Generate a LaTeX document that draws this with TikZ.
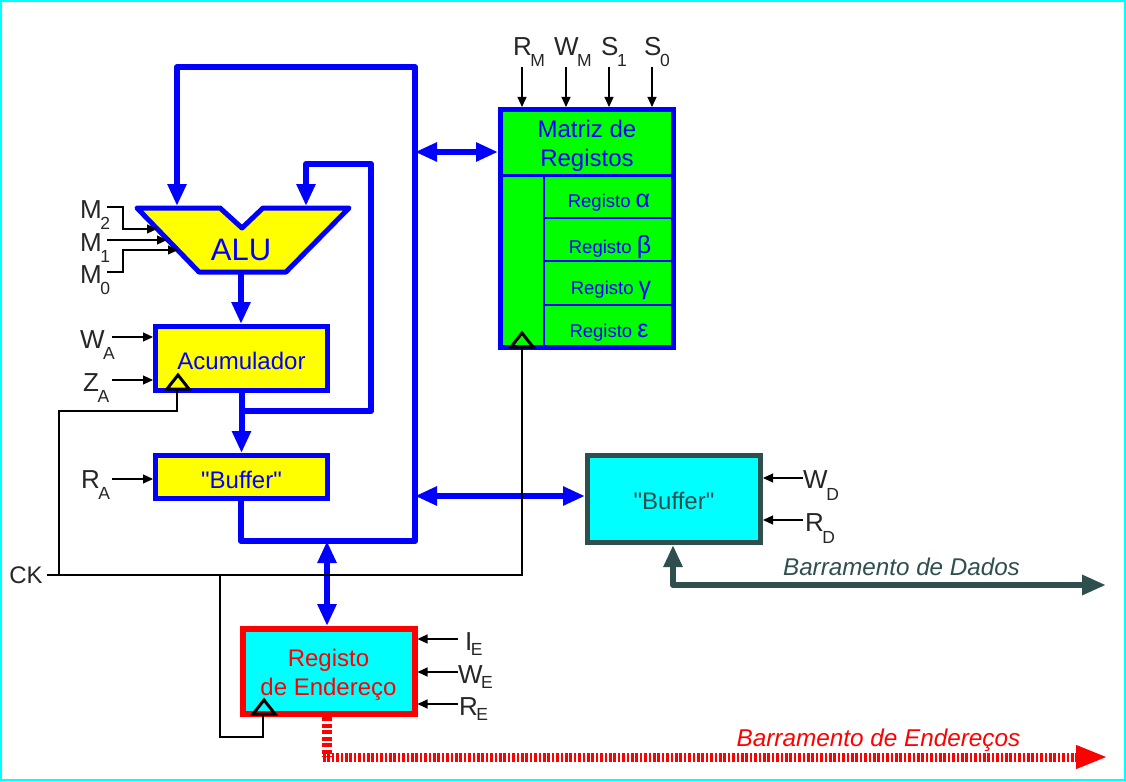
\documentclass[tikz,border=0pt]{standalone}
\usepackage{fontspec}
\setmainfont{Liberation Sans}
\newfontfamily\plainfont{Liberation Sans}
\usetikzlibrary{arrows.meta}
\definecolor{slate}{RGB}{47,79,79}
\definecolor{pureblue}{RGB}{0,0,255}
\definecolor{purered}{RGB}{255,0,0}
\definecolor{purecyan}{RGB}{0,255,255}
\definecolor{pureyellow}{RGB}{255,255,0}
\definecolor{puregreen}{RGB}{0,255,0}
\newcommand{\fsz}[1]{\fontsize{#1}{#1}\selectfont}
\newcommand{\sigtxt}[3][11]{#2\kern-1.5pt\raisebox{-#1pt}{\fsz{17.5}#3}}
\tikzset{
  busline/.style={pureblue, line width=6pt, line join=round},
  bustip/.style={-{Triangle[length=22pt,width=18pt]}},
  busboth/.style={{Triangle[length=22pt,width=18pt]}-{Triangle[length=22pt,width=18pt]}},
  sigline/.style={black, line width=1.2pt, -{Triangle[length=10pt,width=9pt]}},
  ckline/.style={black, line width=1.2pt},
  sigtext/.style={font=\fsz{26}, inner sep=0pt, text=black!85, anchor=base west},
  box/.style={draw=pureblue, fill=pureyellow, line width=5pt, inner sep=0pt},
  cell/.style={inner sep=0pt, text=pureblue, font=\fsz{18.5}},
  clock/.style={draw=black, line width=3pt, line join=miter},
}
\begin{document}
\begin{tikzpicture}[x=1pt, y=-1pt]
\useasboundingbox (0,0) rectangle (1126,781);
\fill[white] (0,0) rectangle (1126,781);
\draw[purecyan, line width=1.2pt] (1,1) rectangle (1125,780);

% Boxes
\node[box, minimum width=172pt, minimum height=64pt] (acum) at (241.5,358.5) {};
\node[box, minimum width=172pt, minimum height=43pt] (bufa) at (241.5,477) {};
\node[box, fill=puregreen, minimum width=173pt, minimum height=238pt] (matriz) at (587,228.5) {};
\node[box, draw=slate, fill=purecyan, minimum width=173pt, minimum height=87pt] (bufd) at (674,499) {};
\node[box, draw=purered, fill=purecyan, line width=6pt, minimum width=172pt, minimum height=85pt] (ender) at (328.5,671.5) {};

% ALU
\draw[pureblue, line width=5pt, fill=pureyellow, line join=round]
  (137,208) -- (220,208) -- (242,228) -- (263,208) -- (349,208) -- (286,272) -- (199,272) -- cycle;
\node[inner sep=0pt, text=pureblue, font=\fsz{31}] (alu) at (241,250) {ALU};

% Box texts
\node[cell, font=\fsz{24}] (acumtxt) at (241.5,361) {Acumulador};
\node[cell, font=\fsz{24}\plainfont] (bufatxt) at (241.5,480) {"Buffer"};
\node[cell, font=\fsz{24}\plainfont, text=slate] (bufdtxt) at (674,501) {"Buffer"};
\node[cell, font=\fsz{24}, align=center] (matriztxt) at (587,146) {Matriz de\\[5pt]Registos};
\node[cell, font=\fsz{24}, text=purered, align=center] (endertxt) at (328.5,675) {Registo\\[5pt]de Endereço};

% Matrix cells
\draw[pureblue, line width=3pt] (matriz.west |- 0,175) -- (matriz.east |- 0,175);
\draw[pureblue, line width=1.2pt] (544,175) -- (544,347);
\foreach \y in {218,261,305} {
  \draw[pureblue, line width=1.2pt] (544,\y) -- (674,\y);
}
\foreach \y/\x/\lbl in {203/609/α, 247/610/β, 290/611/γ, 333/609/ε} {
  \node[cell] (reg\lbl) at (\x,\y) {Registo {\fsz{25}\lbl}};
}

% Data buses
\coordinate (topright) at (415,67);
\coordinate (topleft) at (177,67);
\coordinate (busbase) at (415,541);
\coordinate (busleft) at (241,541);
\coordinate (loopjoin) at (241,411);
\coordinate (loopright) at (371,411);
\coordinate (looptop) at (371,164);
\coordinate (loopleft) at (306,164);
\coordinate (addrjoin) at (327,541);
\draw[busline, bustip] (bufa.south -| busleft) -- (busleft) -- (busbase) -- (topright) -- (topleft) -- (177,206);
\draw[busline, bustip] (loopjoin) -- (loopright) -- (looptop) -- (loopleft) -- (306,206);
\draw[busline, bustip] (alu |- 0,272) -- (acum.north -| alu);
\draw[busline, bustip] (acum.south) -- (bufa.north);
\draw[busline, busboth] (415,152) -- (matriz.west |- 0,152);
\draw[busline, busboth] (415,496) -- (bufd.west |- 0,496);
\draw[busline, busboth] (addrjoin) -- (ender.north -| addrjoin);

% External buses
\coordinate (dadosturn) at (673,585);
\coordinate (dadosend) at (1106,585);
\draw[slate, line width=6.5pt, line join=round, {Triangle[length=22pt,width=18pt]}-{Triangle[length=24pt,width=19pt]}]
  (bufd.south -| dadosturn) -- (dadosturn) -- (dadosend);
\node[inner sep=0pt, text=slate, font=\fsz{24.2}\itshape] (dadostxt) at (901.5,567) {Barramento de Dados};
\coordinate (endturn) at (327,757);
\coordinate (endend) at (1106,757);
\draw[purered, line width=9.5pt, dash pattern=on 4pt off 2.5pt] (ender.south -| endturn) -- (endturn);
\draw[purered, line width=9pt, dash pattern=on 2.6pt off 1.8pt] (323,757) -- (1078,757);
\draw[purered, line width=1pt, -{Triangle[length=30pt,width=24pt]}] (1076,757) -- (endend);
\node[inner sep=0pt, text=purered, font=\fsz{24.3}\itshape] (endtxt) at (878.5,740) {Barramento de Endereços};

% Clock lines
\node[sigtext, font=\fsz{24}, anchor=center] (ck) at (26,575) {CK};
\coordinate (ckmat) at (522,575);
\coordinate (ckacum) at (59,575);
\coordinate (ckend) at (220,575);
\draw[ckline] (ck) ++(21,0) -- (ckmat) -- (522,347);
\draw[ckline] (ckacum) -- (59,411) -- (177,411) -- (177,389);
\draw[ckline] (ckend) -- (220,737) -- (263,737) -- (263,713);
\draw[clock] (511,347) -- (522,333) -- (533,347) -- cycle;
\draw[clock] (167,389) -- (178,375) -- (189,389) -- cycle;
\draw[clock] (253,714) -- (264,700) -- (275,714) -- cycle;

% Control signals on top
\foreach \x/\tx/\a/\b/\nm in {522/513/R/M/rm, 566/554/W/M/wm, 609/601/S/1/sone, 652/644/S/0/szero} {
  \node[sigtext] (\nm) at (\tx,56) {\sigtxt{\a}{\b}};
  \coordinate (\nm in) at (\x,67);
  \draw[sigline] (\nm in) -- (\nm in |- matriz.north);
}
% Control signals on the left
\foreach \y/\tx/\by/\a/\b/\nm in {337/80/348/W/A/wa, 380/83/391/Z/A/za} {
  \node[sigtext] (\nm) at (\tx,\by) {\sigtxt{\a}{\b}};
  \coordinate (\nm in) at (112,\y);
  \draw[sigline] (\nm in) -- (\nm in -| acum.west);
}
\node[sigtext] (ra) at (81,488) {\sigtxt{R}{A}};
\coordinate (rain) at (112,479);
\draw[sigline] (rain) -- (rain -| bufa.west);
% ALU mode
\node[sigtext] (mtwo) at (80,218) {\sigtxt{M}{2}};
\node[sigtext] (mone) at (80,251) {\sigtxt{M}{1}};
\node[sigtext] (mzero) at (80,283) {\sigtxt{M}{0}};
\draw[sigline] (107,207) -- (123,207) -- (123,229) -- (157,229);
\draw[sigline] (107,240) -- (167,240);
\draw[sigline] (107,272) -- (123,272) -- (123,250) -- (178,250);
% Right side signals
\foreach \y/\tx/\by/\a/\b/\nm in {478/803/488/W/D/wd, 520/805/531/R/D/rd} {
  \node[sigtext] (\nm) at (\tx,\by) {\sigtxt[12]{\a}{\b}};
  \coordinate (\nm in) at (803,\y);
  \draw[sigline] (\nm in) -- (\nm in -| bufd.east);
}
\foreach \y/\tx/\by/\a/\b/\nm in {639/465/650/I/E/ie, 672/458/683/W/E/we, 704/459/715/R/E/re} {
  \node[sigtext] (\nm) at (\tx,\by) {\sigtxt[5.5]{\a}{\b}};
  \coordinate (\nm in) at (458,\y);
  \draw[sigline] (\nm in) -- (\nm in -| ender.east);
}
\end{tikzpicture}
\end{document}
